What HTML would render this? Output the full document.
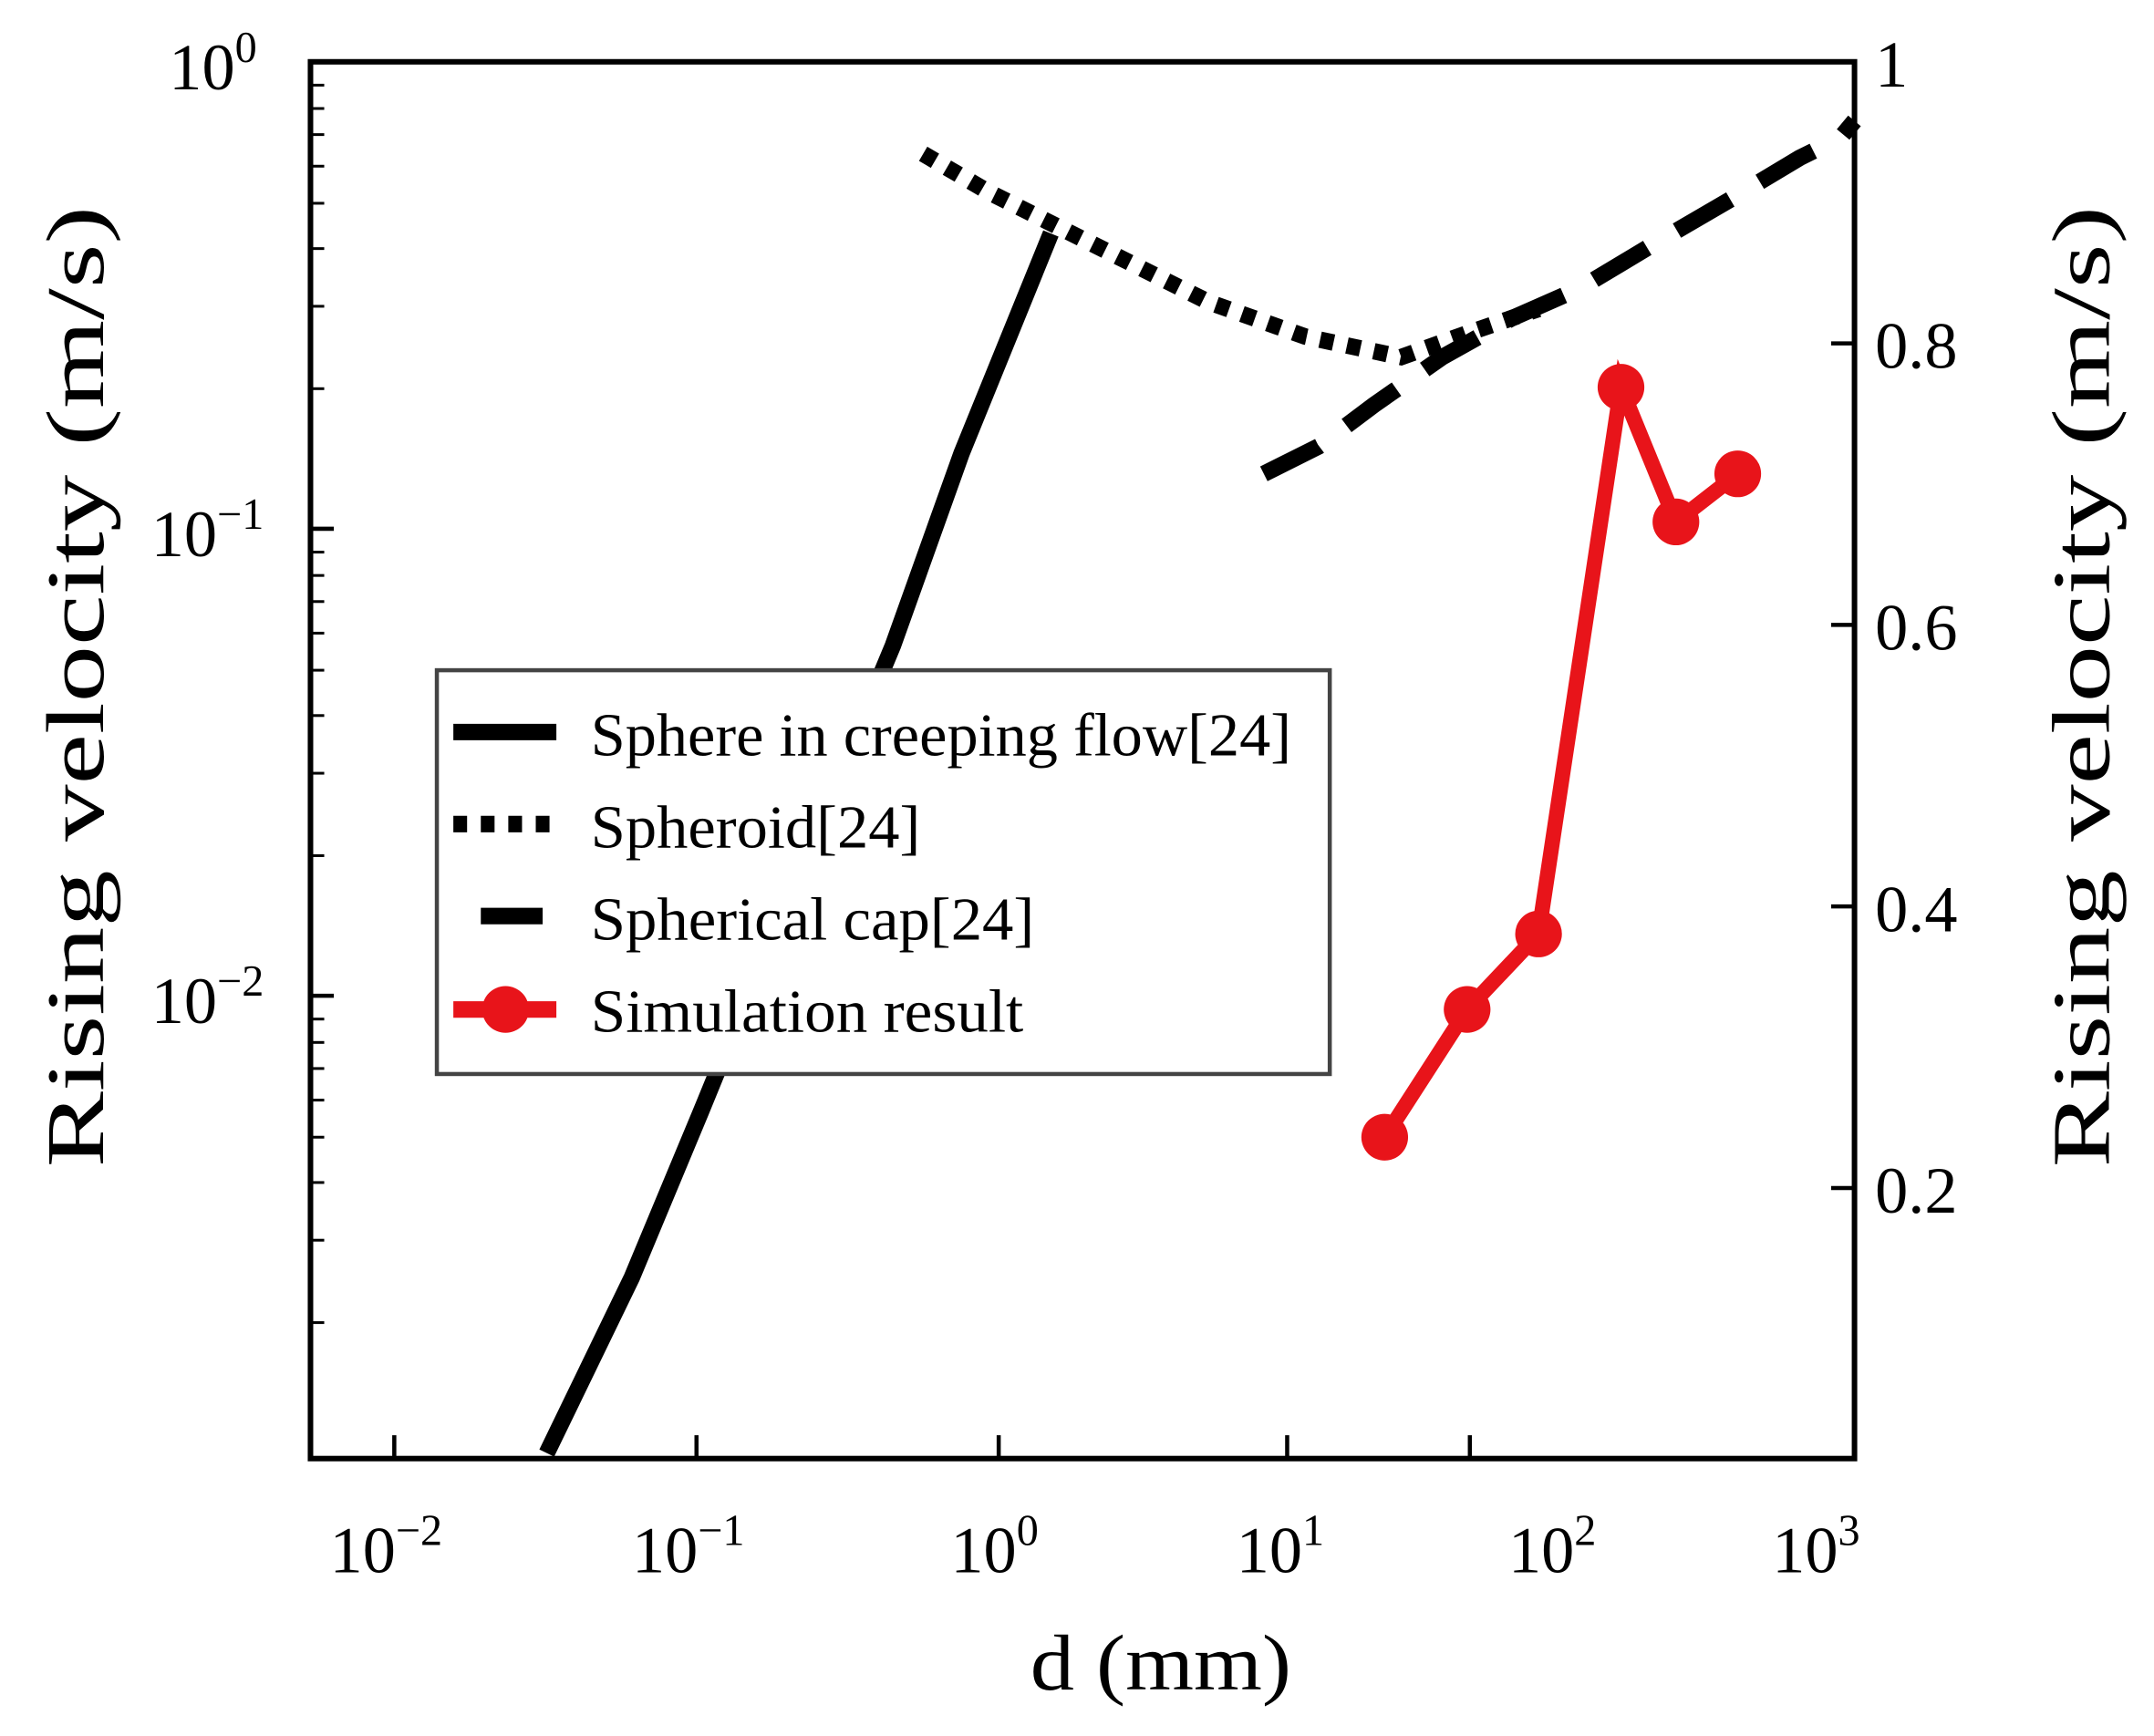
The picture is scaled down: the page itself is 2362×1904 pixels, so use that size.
<!DOCTYPE html>
<html><head><meta charset="utf-8"><style>html,body{margin:0;padding:0;background:#fff}svg{display:block}</style></head>
<body>
<svg width="2362" height="1904" viewBox="0 0 1568 1264" xmlns="http://www.w3.org/2000/svg" font-family="Liberation Serif, serif">
<rect x="0" y="0" width="1568" height="1264" fill="#fff"/>
<rect x="226" y="45" width="1124" height="1017" fill="none" stroke="#000" stroke-width="4"/>
<g stroke="#000" stroke-width="3">
<line x1="287" y1="1062" x2="287" y2="1045"/><line x1="507" y1="1062" x2="507" y2="1045"/><line x1="727" y1="1062" x2="727" y2="1045"/><line x1="937" y1="1062" x2="937" y2="1045"/><line x1="1070" y1="1062" x2="1070" y2="1045"/>
<line x1="226" y1="385" x2="243" y2="385"/><line x1="226" y1="725" x2="243" y2="725"/>
<line x1="1350" y1="250" x2="1333" y2="250"/><line x1="1350" y1="455" x2="1333" y2="455"/><line x1="1350" y1="660" x2="1333" y2="660"/><line x1="1350" y1="865" x2="1333" y2="865"/>
</g>
<g stroke="#000" stroke-width="2">
<line x1="226" y1="283" x2="236" y2="283"/><line x1="226" y1="223" x2="236" y2="223"/><line x1="226" y1="181" x2="236" y2="181"/><line x1="226" y1="148" x2="236" y2="148"/><line x1="226" y1="121" x2="236" y2="121"/><line x1="226" y1="98" x2="236" y2="98"/><line x1="226" y1="79" x2="236" y2="79"/><line x1="226" y1="62" x2="236" y2="62"/>
<line x1="226" y1="623" x2="236" y2="623"/><line x1="226" y1="563" x2="236" y2="563"/><line x1="226" y1="521" x2="236" y2="521"/><line x1="226" y1="488" x2="236" y2="488"/><line x1="226" y1="461" x2="236" y2="461"/><line x1="226" y1="438" x2="236" y2="438"/><line x1="226" y1="419" x2="236" y2="419"/><line x1="226" y1="402" x2="236" y2="402"/>
<line x1="226" y1="963" x2="236" y2="963"/><line x1="226" y1="903" x2="236" y2="903"/><line x1="226" y1="861" x2="236" y2="861"/><line x1="226" y1="828" x2="236" y2="828"/><line x1="226" y1="801" x2="236" y2="801"/><line x1="226" y1="778" x2="236" y2="778"/><line x1="226" y1="759" x2="236" y2="759"/><line x1="226" y1="742" x2="236" y2="742"/>
</g>
<g font-size="48" fill="#000">
<text x="240" y="1145">10<tspan font-size="32" dy="-20">−2</tspan></text>
<text x="460" y="1145">10<tspan font-size="32" dy="-20">−1</tspan></text>
<text x="692" y="1145">10<tspan font-size="32" dy="-20">0</tspan></text>
<text x="900" y="1145">10<tspan font-size="32" dy="-20">1</tspan></text>
<text x="1098" y="1145">10<tspan font-size="32" dy="-20">2</tspan></text>
<text x="1290" y="1145">10<tspan font-size="32" dy="-20">3</tspan></text>
<text x="123" y="65">10<tspan font-size="32" dy="-20">0</tspan></text>
<text x="110" y="405">10<tspan font-size="32" dy="-20">−1</tspan></text>
<text x="110" y="745">10<tspan font-size="32" dy="-20">−2</tspan></text>
<text x="1365" y="63">1</text>
<text x="1365" y="268">0.8</text>
<text x="1365" y="473">0.6</text>
<text x="1365" y="678">0.4</text>
<text x="1365" y="883">0.2</text>
</g>
<text x="845" y="1230" font-size="58" text-anchor="middle" textLength="190" lengthAdjust="spacingAndGlyphs">d (mm)</text>
<text transform="translate(75,500) rotate(-90)" font-size="60" text-anchor="middle" textLength="700" lengthAdjust="spacingAndGlyphs">Rising velocity (m/s)</text>
<text transform="translate(1535,500) rotate(-90)" font-size="60" text-anchor="middle" textLength="700" lengthAdjust="spacingAndGlyphs">Rising velocity (m/s)</text>
<polyline points="398,1058 460,930 510,810 600,590 650,470 700,330 765,170" fill="none" stroke="#000" stroke-width="12"/>
<polyline points="672,112 720,140 770,165 820,190 880,220 950,245 1020,260 1070,242 1120,225" fill="none" stroke="#000" stroke-width="12" stroke-dasharray="10,10"/>
<polyline points="920,345 960,325 1000,295 1050,260 1100,232 1150,210 1200,180 1260,145 1310,115 1340,100 1350,88" fill="none" stroke="#000" stroke-width="12" stroke-dasharray="45,25"/>
<polyline points="1008,828 1068,735 1120,680 1180,282 1220,380 1265,345" fill="none" stroke="#e8141a" stroke-width="11"/>
<g fill="#e8141a"><circle cx="1008" cy="828" r="17"/><circle cx="1068" cy="735" r="17"/><circle cx="1120" cy="680" r="17"/><circle cx="1180" cy="282" r="17"/><circle cx="1220" cy="380" r="17"/><circle cx="1265" cy="345" r="17"/></g>
<rect x="318" y="488" width="650" height="294" fill="#fff" stroke="#444" stroke-width="3"/>
<line x1="330" y1="533" x2="405" y2="533" stroke="#000" stroke-width="12"/>
<line x1="330" y1="600" x2="405" y2="600" stroke="#000" stroke-width="12" stroke-dasharray="10,10"/>
<line x1="330" y1="667" x2="405" y2="667" stroke="#000" stroke-width="12" stroke-dasharray="45,25" stroke-dashoffset="-20"/>
<line x1="330" y1="735" x2="405" y2="735" stroke="#e8141a" stroke-width="12"/>
<circle cx="368" cy="735" r="17" fill="#e8141a"/>
<g font-size="44" fill="#000">
<text x="430" y="550" textLength="510" lengthAdjust="spacingAndGlyphs">Sphere in creeping flow[24]</text>
<text x="430" y="617" textLength="240" lengthAdjust="spacingAndGlyphs">Spheroid[24]</text>
<text x="430" y="684" textLength="323" lengthAdjust="spacingAndGlyphs">Spherical cap[24]</text>
<text x="430" y="751" textLength="315" lengthAdjust="spacingAndGlyphs">Simulation result</text>
</g>
</svg>
</body></html>
